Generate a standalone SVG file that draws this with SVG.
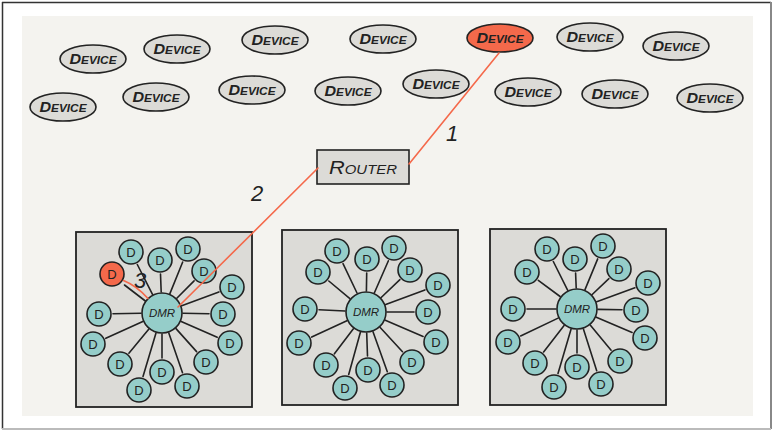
<svg xmlns="http://www.w3.org/2000/svg" width="773" height="431" viewBox="0 0 773 431">
  <style>
    .frame { fill: #ffffff; }
    .panel { fill: #f4f3ef; }
    .dev { fill: #dcdbd7; stroke: #222; stroke-width: 1.6; }
    .dev-hot { fill: #f4694b; stroke: #222; stroke-width: 1.6; }
    .devtxt { font-family: "Liberation Sans", Arial, sans-serif; font-style: italic; font-weight: bold; font-variant: small-caps; font-size: 15px; fill: #222; text-anchor: middle; }
    .router { fill: #dcdbd7; stroke: #222; stroke-width: 1.6; }
    .routertxt { font-family: "Liberation Sans", Arial, sans-serif; font-style: italic; font-variant: small-caps; font-size: 19px; fill: #222; text-anchor: middle; }
    .cell { fill: #dcdbd7; stroke: #222; stroke-width: 1.8; }
    .dmr { fill: #95cdc9; stroke: #222; stroke-width: 1.6; }
    .dmrtxt { font-family: "Liberation Sans", Arial, sans-serif; font-style: italic; font-size: 11.5px; fill: #222; text-anchor: middle; }
    .d { fill: #95cdc9; stroke: #222; stroke-width: 1.6; }
    .d-hot { fill: #f4694b; stroke: #222; stroke-width: 1.6; }
    .dtxt { font-family: "Liberation Sans", Arial, sans-serif; font-size: 13px; fill: #222; text-anchor: middle; }
    .spoke { stroke: #222; stroke-width: 1.6; stroke-linecap: round; }
    .path { stroke: #f4694b; stroke-width: 1.6; stroke-linecap: round; fill: none; }
    .step { font-family: "Liberation Sans", Arial, sans-serif; font-style: italic; font-size: 22px; fill: #222; text-anchor: middle; }
  </style>

  <!-- page frame and panel -->
  <rect class="frame" x="0" y="0" width="773" height="431"/>
  <line x1="2" y1="2.5" x2="771" y2="2.5" stroke="#333" stroke-width="1.5"/>
  <line x1="2.5" y1="2" x2="2.5" y2="429" stroke="#333" stroke-width="1.5"/>
  <line x1="771" y1="2" x2="771" y2="429" stroke="#888" stroke-width="2"/>
  <line x1="2" y1="429" x2="771" y2="429" stroke="#bbb" stroke-width="2"/>
  <rect class="panel" x="22" y="16" width="731" height="400"/>

  <!-- devices -->
  <g id="device-1"><ellipse class="dev" cx="93" cy="59" rx="33" ry="14"/><text class="devtxt" x="93" y="64" textLength="47" lengthAdjust="spacingAndGlyphs">Device</text></g>
  <g id="device-2"><ellipse class="dev" cx="177" cy="49" rx="33" ry="14"/><text class="devtxt" x="177" y="54" textLength="47" lengthAdjust="spacingAndGlyphs">Device</text></g>
  <g id="device-3"><ellipse class="dev" cx="275" cy="40" rx="33" ry="14"/><text class="devtxt" x="275" y="45" textLength="47" lengthAdjust="spacingAndGlyphs">Device</text></g>
  <g id="device-4"><ellipse class="dev" cx="383" cy="39" rx="33" ry="14"/><text class="devtxt" x="383" y="44" textLength="47" lengthAdjust="spacingAndGlyphs">Device</text></g>
  <g id="device-5"><ellipse class="dev-hot" cx="500" cy="38" rx="33" ry="14"/><text class="devtxt" x="500" y="43" textLength="47" lengthAdjust="spacingAndGlyphs">Device</text></g>
  <g id="device-6"><ellipse class="dev" cx="590" cy="37" rx="33" ry="14"/><text class="devtxt" x="590" y="42" textLength="47" lengthAdjust="spacingAndGlyphs">Device</text></g>
  <g id="device-7"><ellipse class="dev" cx="676" cy="46" rx="33" ry="14"/><text class="devtxt" x="676" y="51" textLength="47" lengthAdjust="spacingAndGlyphs">Device</text></g>
  <g id="device-8"><ellipse class="dev" cx="63" cy="107" rx="33" ry="14"/><text class="devtxt" x="63" y="112" textLength="47" lengthAdjust="spacingAndGlyphs">Device</text></g>
  <g id="device-9"><ellipse class="dev" cx="156" cy="97" rx="33" ry="14"/><text class="devtxt" x="156" y="102" textLength="47" lengthAdjust="spacingAndGlyphs">Device</text></g>
  <g id="device-10"><ellipse class="dev" cx="252" cy="90" rx="33" ry="14"/><text class="devtxt" x="252" y="95" textLength="47" lengthAdjust="spacingAndGlyphs">Device</text></g>
  <g id="device-11"><ellipse class="dev" cx="348" cy="91" rx="33" ry="14"/><text class="devtxt" x="348" y="96" textLength="47" lengthAdjust="spacingAndGlyphs">Device</text></g>
  <g id="device-12"><ellipse class="dev" cx="436" cy="84" rx="33" ry="14"/><text class="devtxt" x="436" y="89" textLength="47" lengthAdjust="spacingAndGlyphs">Device</text></g>
  <g id="device-13"><ellipse class="dev" cx="528" cy="92" rx="33" ry="14"/><text class="devtxt" x="528" y="97" textLength="47" lengthAdjust="spacingAndGlyphs">Device</text></g>
  <g id="device-14"><ellipse class="dev" cx="615" cy="94" rx="33" ry="14"/><text class="devtxt" x="615" y="99" textLength="47" lengthAdjust="spacingAndGlyphs">Device</text></g>
  <g id="device-15"><ellipse class="dev" cx="710" cy="98" rx="33" ry="14"/><text class="devtxt" x="710" y="103" textLength="47" lengthAdjust="spacingAndGlyphs">Device</text></g>

  <!-- router -->
  <g id="router">
    <rect class="router" x="317" y="150" width="92" height="34"/>
    <text class="routertxt" x="363" y="174" textLength="68" lengthAdjust="spacingAndGlyphs">Router</text>
  </g>

  <!-- mesh cells -->
  <g id="cell-1">
    <rect class="cell" x="76" y="232" width="176" height="175"/>
  </g>
  <g id="cell-2">
    <rect class="cell" x="282" y="230" width="176" height="175"/>
  </g>
  <g id="cell-3">
    <rect class="cell" x="490" y="229" width="176" height="176"/>
  </g>

  <!-- connectors -->
  <g id="connectors">
    <!-- cell 1 spokes -->
    <line class="spoke" x1="152.5" y1="294.3" x2="137.3" y2="264.5"/>
    <line class="spoke" x1="161.2" y1="292" x2="160.5" y2="274"/>
    <line class="spoke" x1="169.9" y1="293.6" x2="182.7" y2="262"/>
    <line class="spoke" x1="176.8" y1="298.2" x2="194.1" y2="280.9"/>
    <line class="spoke" x1="181.7" y1="305.7" x2="218.9" y2="291.9"/>
    <line class="spoke" x1="183" y1="313.3" x2="209" y2="313.8"/>
    <line class="spoke" x1="181.2" y1="321.5" x2="217.2" y2="337.3"/>
    <line class="spoke" x1="176" y1="328.6" x2="196.6" y2="351.6"/>
    <line class="spoke" x1="168.8" y1="332.9" x2="182.5" y2="372.8"/>
    <line class="spoke" x1="162" y1="334" x2="162" y2="358"/>
    <line class="spoke" x1="156" y1="333.1" x2="143" y2="376.6"/>
    <line class="spoke" x1="148.7" y1="329.2" x2="128.9" y2="353.2"/>
    <line class="spoke" x1="142.8" y1="321.6" x2="105.8" y2="338.3"/>
    <line class="spoke" x1="141" y1="313.3" x2="113" y2="313.8"/>
    <line class="spoke" x1="146" y1="301.5" x2="124.5" y2="285"/>
    <!-- cell 2 spokes -->
    <line class="spoke" x1="357" y1="293" x2="343" y2="263.7"/>
    <line class="spoke" x1="366.4" y1="291" x2="366.7" y2="273"/>
    <line class="spoke" x1="374.4" y1="292.8" x2="388.4" y2="260.8"/>
    <line class="spoke" x1="381.2" y1="297.5" x2="399.9" y2="279.7"/>
    <line class="spoke" x1="385.7" y1="304.6" x2="424.9" y2="289.9"/>
    <line class="spoke" x1="387" y1="312" x2="414" y2="312"/>
    <line class="spoke" x1="385.3" y1="320.3" x2="423.1" y2="336.5"/>
    <line class="spoke" x1="380.2" y1="327.5" x2="402.5" y2="351.7"/>
    <line class="spoke" x1="373" y1="331.8" x2="387.3" y2="371.8"/>
    <line class="spoke" x1="366.7" y1="333" x2="367.5" y2="356"/>
    <line class="spoke" x1="360.4" y1="332.2" x2="348.7" y2="374.5"/>
    <line class="spoke" x1="353.4" y1="328.8" x2="334.4" y2="353.8"/>
    <line class="spoke" x1="346.9" y1="320.8" x2="311.7" y2="337.1"/>
    <line class="spoke" x1="345" y1="311" x2="319" y2="309.7"/>
    <line class="spoke" x1="349.9" y1="298.6" x2="328.8" y2="281"/>
    <!-- cell 3 spokes -->
    <line class="spoke" x1="567.6" y1="290.2" x2="553.3" y2="261.5"/>
    <line class="spoke" x1="576.2" y1="288" x2="575.6" y2="273"/>
    <line class="spoke" x1="585" y1="289.6" x2="597.7" y2="258.9"/>
    <line class="spoke" x1="592.2" y1="294.5" x2="608.9" y2="278.7"/>
    <line class="spoke" x1="596.7" y1="301.8" x2="634.9" y2="287.8"/>
    <line class="spoke" x1="598" y1="309.4" x2="622" y2="309.8"/>
    <line class="spoke" x1="596.3" y1="317.2" x2="632.1" y2="332.5"/>
    <line class="spoke" x1="590.4" y1="325.2" x2="611.1" y2="350.2"/>
    <line class="spoke" x1="583.4" y1="329" x2="596.7" y2="370.7"/>
    <line class="spoke" x1="577" y1="330" x2="577" y2="353"/>
    <line class="spoke" x1="571.1" y1="329.1" x2="558" y2="373.6"/>
    <line class="spoke" x1="564.1" y1="325.6" x2="543.6" y2="352"/>
    <line class="spoke" x1="558.1" y1="318.1" x2="520.6" y2="336"/>
    <line class="spoke" x1="556" y1="309" x2="527" y2="309"/>
    <line class="spoke" x1="560.1" y1="296.5" x2="538.3" y2="280.3"/>
  </g>

  <!-- cell 1 nodes -->
  <g id="cell-1-nodes">
    <g id="dmr-1"><circle class="dmr" cx="162" cy="313" r="20"/><text class="dmrtxt" x="162" y="317">DMR</text></g>
    <g id="d1-1"><circle class="d" cx="131" cy="252" r="12"/><text class="dtxt" x="131" y="256.7">D</text></g>
    <g id="d1-2"><circle class="d" cx="160" cy="260" r="12"/><text class="dtxt" x="160" y="264.7">D</text></g>
    <g id="d1-3"><circle class="d" cx="188" cy="249" r="12"/><text class="dtxt" x="188" y="253.7">D</text></g>
    <g id="d1-4"><circle class="d" cx="204" cy="271" r="12"/><text class="dtxt" x="204" y="275.7">D</text></g>
    <g id="d1-5"><circle class="d" cx="232" cy="287" r="12"/><text class="dtxt" x="232" y="291.7">D</text></g>
    <g id="d1-6"><circle class="d" cx="223" cy="314" r="12"/><text class="dtxt" x="223" y="318.7">D</text></g>
    <g id="d1-7"><circle class="d" cx="230" cy="343" r="12"/><text class="dtxt" x="230" y="347.7">D</text></g>
    <g id="d1-8"><circle class="d" cx="206" cy="362" r="12"/><text class="dtxt" x="206" y="366.7">D</text></g>
    <g id="d1-9"><circle class="d" cx="187" cy="386" r="12"/><text class="dtxt" x="187" y="390.7">D</text></g>
    <g id="d1-10"><circle class="d" cx="162" cy="372" r="12"/><text class="dtxt" x="162" y="376.7">D</text></g>
    <g id="d1-11"><circle class="d" cx="139" cy="390" r="12"/><text class="dtxt" x="139" y="394.7">D</text></g>
    <g id="d1-12"><circle class="d" cx="120" cy="364" r="12"/><text class="dtxt" x="120" y="368.7">D</text></g>
    <g id="d1-13"><circle class="d" cx="93" cy="344" r="12"/><text class="dtxt" x="93" y="348.7">D</text></g>
    <g id="d1-14"><circle class="d" cx="99" cy="314" r="12"/><text class="dtxt" x="99" y="318.7">D</text></g>
    <g id="d1-15"><circle class="d-hot" cx="112" cy="274" r="12"/><text class="dtxt" x="112" y="278.7">D</text></g>
  </g>

  <!-- cell 2 nodes -->
  <g id="cell-2-nodes">
    <g id="dmr-2"><circle class="dmr" cx="366" cy="312" r="20"/><text class="dmrtxt" x="366" y="316">DMR</text></g>
    <g id="d2-1"><circle class="d" cx="337" cy="251" r="12"/><text class="dtxt" x="337" y="255.7">D</text></g>
    <g id="d2-2"><circle class="d" cx="367" cy="259" r="12"/><text class="dtxt" x="367" y="263.7">D</text></g>
    <g id="d2-3"><circle class="d" cx="394" cy="248" r="12"/><text class="dtxt" x="394" y="252.7">D</text></g>
    <g id="d2-4"><circle class="d" cx="410" cy="270" r="12"/><text class="dtxt" x="410" y="274.7">D</text></g>
    <g id="d2-5"><circle class="d" cx="438" cy="285" r="12"/><text class="dtxt" x="438" y="289.7">D</text></g>
    <g id="d2-6"><circle class="d" cx="428" cy="312" r="12"/><text class="dtxt" x="428" y="316.7">D</text></g>
    <g id="d2-7"><circle class="d" cx="436" cy="342" r="12"/><text class="dtxt" x="436" y="346.7">D</text></g>
    <g id="d2-8"><circle class="d" cx="412" cy="362" r="12"/><text class="dtxt" x="412" y="366.7">D</text></g>
    <g id="d2-9"><circle class="d" cx="392" cy="385" r="12"/><text class="dtxt" x="392" y="389.7">D</text></g>
    <g id="d2-10"><circle class="d" cx="368" cy="370" r="12"/><text class="dtxt" x="368" y="374.7">D</text></g>
    <g id="d2-11"><circle class="d" cx="345" cy="388" r="12"/><text class="dtxt" x="345" y="392.7">D</text></g>
    <g id="d2-12"><circle class="d" cx="326" cy="365" r="12"/><text class="dtxt" x="326" y="369.7">D</text></g>
    <g id="d2-13"><circle class="d" cx="299" cy="343" r="12"/><text class="dtxt" x="299" y="347.7">D</text></g>
    <g id="d2-14"><circle class="d" cx="305" cy="309" r="12"/><text class="dtxt" x="305" y="313.7">D</text></g>
    <g id="d2-15"><circle class="d" cx="318" cy="272" r="12"/><text class="dtxt" x="318" y="276.7">D</text></g>
  </g>

  <!-- cell 3 nodes -->
  <g id="cell-3-nodes">
    <g id="dmr-3"><circle class="dmr" cx="577" cy="309" r="20"/><text class="dmrtxt" x="577" y="313">DMR</text></g>
    <g id="d3-1"><circle class="d" cx="547" cy="249" r="12"/><text class="dtxt" x="547" y="253.7">D</text></g>
    <g id="d3-2"><circle class="d" cx="575" cy="259" r="12"/><text class="dtxt" x="575" y="263.7">D</text></g>
    <g id="d3-3"><circle class="d" cx="603" cy="246" r="12"/><text class="dtxt" x="603" y="250.7">D</text></g>
    <g id="d3-4"><circle class="d" cx="619" cy="269" r="12"/><text class="dtxt" x="619" y="273.7">D</text></g>
    <g id="d3-5"><circle class="d" cx="648" cy="283" r="12"/><text class="dtxt" x="648" y="287.7">D</text></g>
    <g id="d3-6"><circle class="d" cx="636" cy="310" r="12"/><text class="dtxt" x="636" y="314.7">D</text></g>
    <g id="d3-7"><circle class="d" cx="645" cy="338" r="12"/><text class="dtxt" x="645" y="342.7">D</text></g>
    <g id="d3-8"><circle class="d" cx="620" cy="361" r="12"/><text class="dtxt" x="620" y="365.7">D</text></g>
    <g id="d3-9"><circle class="d" cx="601" cy="384" r="12"/><text class="dtxt" x="601" y="388.7">D</text></g>
    <g id="d3-10"><circle class="d" cx="577" cy="367" r="12"/><text class="dtxt" x="577" y="371.7">D</text></g>
    <g id="d3-11"><circle class="d" cx="554" cy="387" r="12"/><text class="dtxt" x="554" y="391.7">D</text></g>
    <g id="d3-12"><circle class="d" cx="535" cy="363" r="12"/><text class="dtxt" x="535" y="367.7">D</text></g>
    <g id="d3-13"><circle class="d" cx="508" cy="342" r="12"/><text class="dtxt" x="508" y="346.7">D</text></g>
    <g id="d3-14"><circle class="d" cx="513" cy="309" r="12"/><text class="dtxt" x="513" y="313.7">D</text></g>
    <g id="d3-15"><circle class="d" cx="527" cy="272" r="12"/><text class="dtxt" x="527" y="276.7">D</text></g>
  </g>

  <!-- highlighted route: device -> router -> mesh root -> end node -->
  <g id="route">
    <line class="path" x1="499" y1="53" x2="409" y2="164"/>
    <line class="path" x1="318" y1="168" x2="178" y2="307"/>
    <path class="path" d="M123.5 280.5 Q137 286 148 298.5"/>
    <text class="step" x="452" y="141">1</text>
    <text class="step" x="257" y="201">2</text>
    <text class="step" x="140" y="288">3</text>
  </g>
</svg>
